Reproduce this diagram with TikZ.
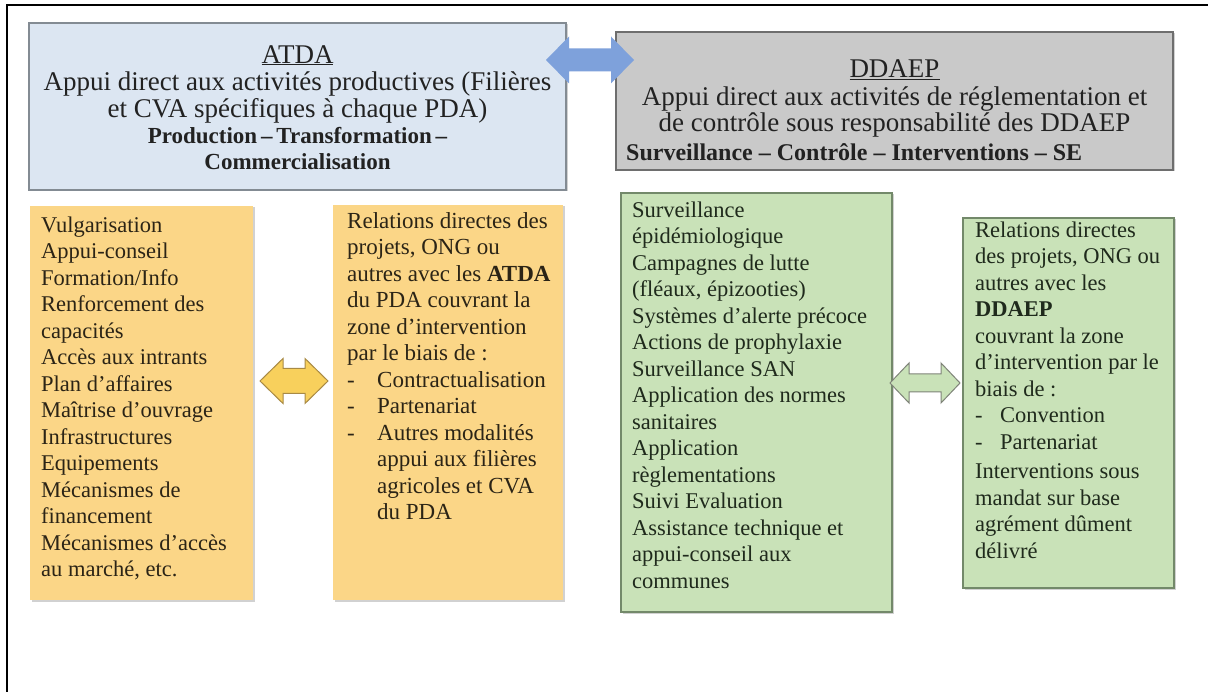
\documentclass[tikz,border=0pt]{standalone}
\usepackage{fontspec}
\setmainfont{Liberation Serif}
\newfontfamily\tnr{Liberation Serif}
\usetikzlibrary{shadows}
\definecolor{bluefill}{HTML}{DCE6F2}
\definecolor{bluebd}{HTML}{838B93}
\definecolor{greyfill}{HTML}{C9C9C9}
\definecolor{greybd}{HTML}{6E6E6E}
\definecolor{orangefill}{HTML}{FBD687}
\definecolor{greenfill}{HTML}{C9E2B8}
\definecolor{greenbd}{HTML}{73896A}
\definecolor{bluearr}{HTML}{7EA1DB}
\definecolor{yellowarr}{HTML}{F8D05C}
\definecolor{yellowbd}{HTML}{A88A45}
\definecolor{greenarrbd}{HTML}{7F8479}
\definecolor{brtext}{HTML}{2B2416}
\definecolor{grtext}{HTML}{1F2A1C}
\definecolor{hdtext}{HTML}{222222}
\newcommand{\dblarrow}[7]{%
  \draw[#1] (#2,#4) -- (#2+#7,#4-#5) -- (#2+#7,#4-#6) -- (#3-#7,#4-#6)
    -- (#3-#7,#4-#5) -- (#3,#4) -- (#3-#7,#4+#5) -- (#3-#7,#4+#6)
    -- (#2+#7,#4+#6) -- (#2+#7,#4+#5) -- cycle;}
\newcommand{\bul}[1]{\makebox[30pt][l]{-}#1}
\newcommand{\bulg}[1]{\makebox[25pt][l]{-}#1}
\begin{document}
\begin{tikzpicture}[x=1pt,y=-1pt,
  box/.style={anchor=north west, inner sep=0pt, outer sep=0pt},
  shad/.style={drop shadow={shadow xshift=1.5pt, shadow yshift=-1.5pt, opacity=0.18, fill=black}},
  bluebox/.style={box, draw=bluebd, fill=bluefill, line width=1.3pt, shad},
  greybox/.style={box, draw=greybd, fill=greyfill, line width=1.3pt, shad},
  orangebox/.style={box, fill=orangefill, shad},
  greenbox/.style={box, draw=greenbd, fill=greenfill, line width=1.2pt, shad},
  head/.style={anchor=north, align=center, inner sep=0pt, text=hdtext,
    font=\tnr\fontsize{27}{27}\selectfont},
  headb/.style={inner sep=0pt, text=hdtext,
    font=\tnr\fontsize{23}{26}\selectfont\bfseries},
  body/.style={anchor=north west, align=left, inner sep=0pt,
    font=\tnr\fontsize{22.5}{26.5}\selectfont}
]
\useasboundingbox (0,0) rectangle (1208,692);
\fill[white] (0,0) rectangle (1208,692);
% outer frame
\draw[line width=2.2pt] (6.7,692) -- (6.7,5.3) -- (1208,5.3);

% header boxes
\node[bluebox, minimum width=537pt, minimum height=167pt] (atda) at (29,23) {};
\node[greybox, minimum width=557pt, minimum height=138pt] (ddaep) at (616,32) {};

% top double arrow
\dblarrow{fill=bluearr, draw=none}{546}{634}{60}{23.5}{11.5}{23}

\node[head] (atdat) at (297.5,44) {\strut\underline{ATDA}\\
  Appui direct aux activités productives (Filières\\
  et CVA spécifiques à chaque PDA)};
\node[headb, anchor=north, align=center] (atdab) at (297.5,125) {\strut Production\,–\,Transformation\,–\\Commercialisation};

\node[head, font=\tnr\fontsize{27}{26}\selectfont] (ddaept) at (894.5,59.5) {\strut\underline{DDAEP}\\
  Appui direct aux activités de réglementation et\\
  de contrôle sous responsabilité des DDAEP};
\node[headb, anchor=base west, font=\tnr\fontsize{24}{26}\selectfont\bfseries] (ddaepb) at (626,161) {Surveillance – Contrôle – Interventions – SE};

% lower boxes
\node[orangebox, minimum width=223pt, minimum height=394pt] (o1) at (30,206) {};
\node[orangebox, minimum width=230pt, minimum height=395pt] (o2) at (333,205) {};
\node[greenbox, minimum width=271pt, minimum height=419pt] (g1) at (621,193) {};
\node[greenbox, minimum width=211pt, minimum height=370pt] (g2) at (963,218) {};

% side double arrows
\dblarrow{fill=yellowarr, draw=yellowbd, line width=1pt}{260}{328}{381}{22.5}{12.5}{23}
\dblarrow{fill=greenfill, draw=greenarrbd, line width=1pt}{890}{960}{383}{20}{9}{19}

% texts
\node[body, text=brtext] (o1t) at (41,213.5) {\strut Vulgarisation\\
Appui-conseil\\
Formation/Info\\
Renforcement des\\
capacités\\
Accès aux intrants\\
Plan d’affaires\\
Maîtrise d’ouvrage\\
Infrastructures\\
Equipements\\
Mécanismes de\\
financement\\
Mécanismes d’accès\\
au marché, etc.};

\node[body, text=brtext, font=\tnr\fontsize{23}{26.5}\selectfont] (o2t) at (347,209.5) {\strut Relations directes des\\
projets, ONG ou\\
autres avec les \textbf{ATDA}\\
du PDA couvrant la\\
zone d’intervention\\
par le biais de :\\
\bul{Contractualisation}\\
\bul{Partenariat}\\
\bul{Autres modalités}\\
\hspace*{30pt}appui aux filières\\
\hspace*{30pt}agricoles et CVA\\
\hspace*{30pt}du PDA};

\node[body, text=grtext] (g1t) at (632,198.5) {\strut Surveillance\\
épidémiologique\\
Campagnes de lutte\\
(fléaux, épizooties)\\
Systèmes d’alerte précoce\\
Actions de prophylaxie\\
Surveillance SAN\\
Application des normes\\
sanitaires\\
Application\\
règlementations\\
Suivi Evaluation\\
Assistance technique et\\
appui-conseil aux\\
communes};

\node[body, text=grtext] (g2t) at (975,218.5) {\strut Relations directes\\
des projets, ONG ou\\
autres avec les\\
\textbf{DDAEP}\\
couvrant la zone\\
d’intervention par le\\
biais de :\\
\bulg{Convention}\\
\bulg{Partenariat}\\[3pt]
Interventions sous\\
mandat sur base\\
agrément dûment\\
délivré};
\end{tikzpicture}
\end{document}
